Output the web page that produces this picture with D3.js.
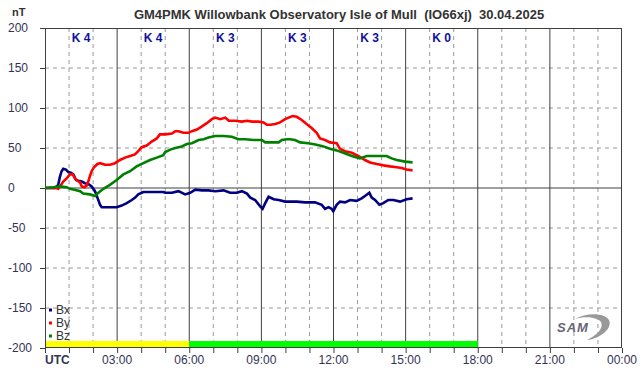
<!DOCTYPE html>
<html>
<head>
<meta charset="utf-8">
<script src="https://cdn.jsdelivr.net/npm/d3@7"></script>
<style>
body { margin: 0; background: #fff; }
text { font-family: Arial, "Liberation Sans", sans-serif; }
</style>
</head>
<body>
<div id="chart"></div>
<script>
// magnetometer trace, time in hours UTC, values in nT
var bxT = [0,0.42,0.55,0.62,0.69,0.76,0.87,0.97,1.07,1.18,1.29,1.39,1.53,1.66,1.80,1.94,2.08,2.18,2.29,2.36,2.57,2.98,3.19,3.40,3.61,3.75,3.88,4.09,4.37,4.65,4.92,
  5.0,5.28,5.55,5.83,6.04,6.25,6.53,6.80,7.08,7.43,7.70,7.98,8.19,8.40,8.54,8.74,8.95,9.05,9.16,9.30,9.51,9.72,9.99,
  10.19,10.47,10.81,11.23,11.51,11.65,11.79,11.92,11.99,12.13,12.27,12.48,12.69,12.96,13.17,13.31,13.49,13.59,13.73,13.91,14.07,14.28,14.49,14.77,15.04,15.29];
var bxV = [0,0,4,14,21,24,23,20,19,17,10,9,8,6,5,2,-4,-12,-21,-24,-24,-24,-22,-19,-15,-12,-8,-5,-5,-5,-5,
  -6,-6,-4,-8,-6,-2,-3,-3,-4,-3,-6,-6,-4,-7,-12,-15,-23,-26,-19,-11,-14,-15,-17,
  -17,-17,-18,-18,-21,-26,-24,-26,-29,-21,-17,-18,-15,-16,-13,-10,-6,-12,-15,-21,-19,-15,-15,-17,-14,-13];

var byT = [0,0.45,0.55,0.65,0.76,0.90,1.04,1.15,1.25,1.35,1.46,1.53,1.64,1.73,1.80,1.87,1.94,2.04,2.18,2.29,2.50,2.70,2.91,3.12,3.33,3.54,3.74,3.88,4.02,4.23,4.44,4.65,4.78,4.99,
  5.28,5.42,5.55,5.76,5.97,6.11,6.32,6.53,6.73,6.94,7.08,7.29,7.50,7.64,7.91,8.19,8.40,8.61,8.88,9.09,9.23,9.37,9.58,9.78,9.99,10.13,
  10.30,10.47,10.68,10.88,11.09,11.30,11.44,11.65,11.85,12.13,12.27,12.48,12.76,13.03,13.31,13.52,13.80,14.14,14.35,14.63,14.84,15.04,15.29];
var byV = [0,0,-1,3,8,12,17,17,12,9,7,2,1,3,8,15,21,26,30,31,29,29,31,35,38,40,42,46,51,53,58,62,67,67,
  68,71,71,69,69,71,73,77,81,86,88,86,88,84,84,83,84,83,83,82,79,79,80,82,86,88,
  90,89,85,80,75,69,62,60,57,56,49,46,44,40,35,32,30,28,27,26,25,23,22];

var bzT = [0,0.35,0.62,0.90,1.04,1.18,1.46,1.59,1.87,2.08,2.22,2.43,2.70,2.98,3.26,3.54,3.81,4.09,4.37,4.65,4.92,
  5.0,5.21,5.42,5.69,5.90,6.11,6.39,6.60,6.80,7.08,7.43,7.77,8.05,8.33,8.68,9.02,9.16,9.44,9.72,9.85,10.06,
  10.19,10.40,10.61,10.95,11.30,11.58,11.85,12.13,12.41,12.76,13.10,13.38,13.80,14.21,14.42,14.63,14.98,15.29];
var bzV = [0,1,2,1,-1,-2,-4,-7,-8,-10,-6,-1,4,10,17,21,27,31,35,38,41,
  45,48,50,52,55,56,60,61,63,65,65,64,61,61,60,60,57,57,57,60,61,
  61,60,57,56,54,52,49,47,44,40,37,40,40,40,37,35,33,32];

var kLabels = ["K 4","K 4","K 3","K 3","K 3","K 0"];
var yTicks = [200,150,100,50,0,-50,-100,-150,-200];
var xLabels = ["UTC","03:00","06:00","09:00","12:00","15:00","18:00","21:00","00:00"];
var bands = [[0,6,"#ffff00"],[6,18,"#00ff00"]];

var W = 642, H = 376;
var svg = d3.select("#chart").append("svg").attr("width", W).attr("height", H);

var x = d3.scaleLinear().domain([0,24]).range([45,622]);
var y = d3.scaleLinear().domain([-200,200]).range([348,28]);

// title
svg.append("text").attr("x", 339).attr("y", 19).attr("text-anchor","middle")
  .style("font-size","13px").style("font-weight","bold").attr("fill","#333")
  .text("GM4PMK Willowbank Observatory Isle of Mull  (IO66xj)  30.04.2025").attr("xml:space","preserve");
svg.append("text").attr("x", 12).attr("y", 16).style("font-size","11px").style("font-weight","bold")
  .attr("fill","#333").text("nT");

// grid
var grid = svg.append("g");
yTicks.filter(function(v){ return v != 0 && Math.abs(v) != 200; }).forEach(function(v){
  grid.append("line").attr("x1", x(0)).attr("x2", x(24)).attr("y1", y(v)).attr("y2", y(v))
    .attr("stroke","#999").attr("stroke-dasharray","4,4");
});
d3.range(1,24).forEach(function(h){
  grid.append("line").attr("x1", x(h)).attr("x2", x(h)).attr("y1", y(200)).attr("y2", y(-200))
    .attr("stroke", h % 3 == 0 ? "#404040" : "#999")
    .attr("stroke-dasharray", h % 3 == 0 ? null : "4,4");
});
grid.append("line").attr("x1", x(0)).attr("x2", x(24)).attr("y1", y(0)).attr("y2", y(0)).attr("stroke","#404040");

// daylight bar
bands.forEach(function(b){
  svg.append("rect").attr("x", x(b[0])).attr("y", y(-200)-7).attr("width", x(b[1])-x(b[0])).attr("height", 7)
    .attr("fill", b[2]);
});

// frame
svg.append("rect").attr("x", x(0)+0.5).attr("y", y(200)+0.5).attr("width", x(24)-x(0)-1).attr("height", y(-200)-y(200)-1)
  .attr("fill","none").attr("stroke","#404040");

// y axis ticks + labels
yTicks.forEach(function(v){
  svg.append("line").attr("x1", x(0)-5).attr("x2", x(0)).attr("y1", y(v)+0.5).attr("y2", y(v)+0.5).attr("stroke","#404040");
  svg.append("text").attr("x", 8).attr("y", y(v)+4).style("font-size","12px").attr("fill","#333355").text(v);
});
svg.append("line").attr("x1", x(0)+0.5).attr("x2", x(0)+0.5).attr("y1", y(-200)).attr("y2", y(-200)+5).attr("stroke","#404040");

// x axis ticks + labels
d3.range(0,25).forEach(function(h){
  svg.append("line").attr("x1", x(h)+0.5).attr("x2", x(h)+0.5).attr("y1", y(-200)).attr("y2", y(-200)+5).attr("stroke","#404040");
});
xLabels.forEach(function(s,i){
  svg.append("text").attr("x", i == 0 ? x(0) : x(i*3)).attr("y", 364)
    .attr("text-anchor", i == 0 ? "start" : "middle")
    .style("font-size","12px").style("font-weight", i == 0 ? "bold" : "normal")
    .attr("fill","#333355").text(s);
});

// K index labels
kLabels.forEach(function(s,i){
  svg.append("text").attr("x", x(i*3+1.5)).attr("y", 42).attr("text-anchor","middle")
    .style("font-size","12px").style("font-weight","bold").attr("fill","#1010a0").text(s).attr("xml:space","preserve");
});

// series
var series = [
  {name:"Bx", t:bxT, v:bxV, color:"#000080"},
  {name:"By", t:byT, v:byV, color:"#ff0000"},
  {name:"Bz", t:bzT, v:bzV, color:"#008000"}
];
var line = d3.line().x(function(d){ return x(d[0]); }).y(function(d){ return y(d[1]); });
series.forEach(function(s){
  var pts = s.t.map(function(t,i){ return [t, s.v[i]]; });
  svg.append("path").datum(pts).attr("fill","none").attr("stroke", s.color)
    .attr("stroke-width", 2.6).attr("stroke-linejoin","miter").attr("d", line);
});

// legend
series.forEach(function(s,i){
  var ly = 310 + i*13;
  svg.append("rect").attr("x", 49).attr("y", ly-1.5).attr("width", 3).attr("height", 3).attr("fill", s.color);
  svg.append("text").attr("x", 56).attr("y", ly+4).style("font-size","12px").attr("fill","#333").text(s.name);
});

// SAM logo
var logo = svg.append("g").attr("transform","translate(557,315)");
logo.append("path").attr("d","M18,4 C30,-3 48,-2 52,5 C56,14 42,24 30,25 C40,20 47,13 44,7 C40,2 28,1 18,4 Z")
  .attr("fill","#999");
logo.append("text").attr("x", 0).attr("y", 17).style("font-size","13px").style("font-style","italic")
  .style("font-weight","bold").attr("fill","#667").attr("letter-spacing","1").text("SAM");
</script>
</body>
</html>
